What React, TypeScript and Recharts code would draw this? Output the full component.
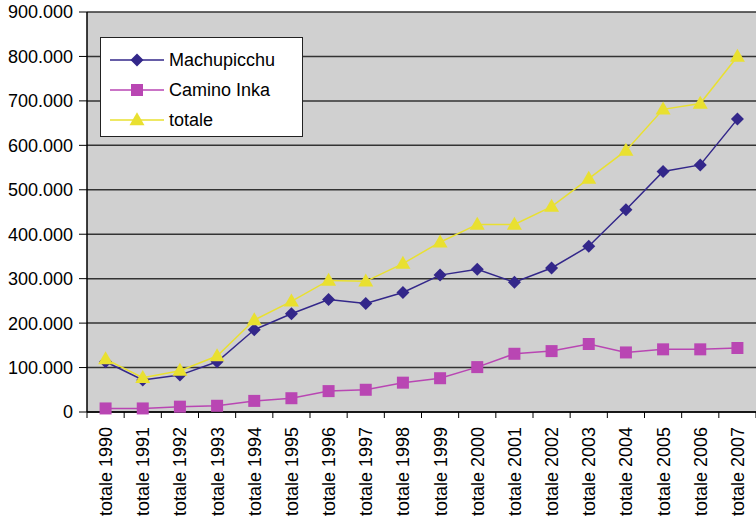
import React from "react";
import { LineChart, Line, XAxis, YAxis, CartesianGrid } from "recharts";

const categories = [
  "totale 1990", "totale 1991", "totale 1992", "totale 1993", "totale 1994", "totale 1995",
  "totale 1996", "totale 1997", "totale 1998", "totale 1999", "totale 2000", "totale 2001",
  "totale 2002", "totale 2003", "totale 2004", "totale 2005", "totale 2006", "totale 2007",
];
const machupicchu = [113000, 72000, 83000, 113000, 185000, 221000, 253000, 244000, 269000, 308000, 321000, 292000, 324000, 373000, 455000, 541000, 556000, 659000];
const caminoInka = [8000, 8000, 12000, 14000, 25000, 31000, 47000, 50000, 66000, 76000, 101000, 131000, 137000, 153000, 134000, 141000, 141000, 144000];
const totale = [119000, 77000, 93000, 126000, 207000, 249000, 296000, 294000, 334000, 382000, 422000, 422000, 462000, 525000, 588000, 681000, 694000, 800000];
const yTicks = [0, 100000, 200000, 300000, 400000, 500000, 600000, 700000, 800000, 900000];

const seriesNames = ["Machupicchu", "Camino Inka", "totale"];
const COLORS = { m: "#33278a", c: "#b946b3", t: "#e9e030" };

const data = categories.map((c, i) => ({
  name: c,
  Machupicchu: machupicchu[i],
  "Camino Inka": caminoInka[i],
  totale: totale[i],
}));

const W = 756;
const H = 521;
const LEFT = 87;
const PLOT_W = W - LEFT;
const HALF_BAND = PLOT_W / categories.length / 2;
const FONT = "'Liberation Sans', Arial, sans-serif";

const fmt = (v: number) => (v === 0 ? "0" : (v / 1000).toFixed(0) + ".000");

const Diamond = ({ cx, cy, fill, r = 6.5 }: any) => (
  <path d={`M${cx},${cy - r} L${cx + r},${cy} L${cx},${cy + r} L${cx - r},${cy} Z`} fill={fill} />
);
const Square = ({ cx, cy, fill, s = 12 }: any) => (
  <rect x={cx - s / 2} y={cy - s / 2} width={s} height={s} fill={fill} />
);
const Triangle = ({ cx, cy, fill, w = 15, h = 13 }: any) => (
  <path d={`M${cx},${cy - h * 0.6} L${cx + w / 2},${cy + h * 0.4} L${cx - w / 2},${cy + h * 0.4} Z`} fill={fill} />
);

const XTick = (props: any) => {
  const { x, y, payload, index } = props;
  const isLast = index === categories.length - 1;
  return (
    <g>
      <line x1={x - HALF_BAND} x2={x - HALF_BAND} y1={y - 6} y2={y} stroke="#000" strokeWidth={1} />
      {isLast && <line x1={x + HALF_BAND} x2={x + HALF_BAND} y1={y - 6} y2={y} stroke="#000" />}
      <text
        transform={`translate(${x + 6.5},${y + 9}) rotate(-90)`}
        textAnchor="end"
        fontSize={18}
        fontFamily={FONT}
        fill="#000"
      >
        {payload.value}
      </text>
    </g>
  );
};

const legendItems = [
  { name: seriesNames[0], color: COLORS.m, shape: "d" },
  { name: seriesNames[1], color: COLORS.c, shape: "s" },
  { name: seriesNames[2], color: COLORS.t, shape: "t" },
];

export default function App() {
  return (
    <div style={{ position: "absolute", left: 0, top: 0, width: W, height: H, background: "#fff" }}>
      <LineChart width={W} height={H} data={data} margin={{ top: 12, right: 0, left: 0, bottom: 0 }}>
        <CartesianGrid vertical={false} stroke="#333" strokeWidth={1.5} fill="#d0d0d0" fillOpacity={1} />
        <XAxis
          dataKey="name"
          height={109}
          padding={{ left: HALF_BAND, right: HALF_BAND }}
          axisLine={{ stroke: "#000", strokeWidth: 1.5 }}
          tickLine={false}
          tickSize={6}
          tickMargin={0}
          interval={0}
          tick={<XTick />}
        />
        <YAxis
          width={LEFT}
          domain={[0, 900000]}
          ticks={yTicks}
          tickFormatter={fmt}
          axisLine={{ stroke: "#000", strokeWidth: 1.5 }}
          tickLine={{ stroke: "#000" }}
          tickSize={8}
          tickMargin={6}
          tick={{ fill: "#000", fontSize: 18, fontFamily: FONT }}
        />
        <Line
          dataKey="Camino Inka"
          stroke={COLORS.c}
          strokeWidth={1.5}
          isAnimationActive={false}
          dot={(p: any) => <Square key={`c${p.index}`} cx={p.cx} cy={p.cy} fill={COLORS.c} />}
        />
        <Line
          dataKey="Machupicchu"
          stroke={COLORS.m}
          strokeWidth={1.5}
          isAnimationActive={false}
          dot={(p: any) => <Diamond key={`m${p.index}`} cx={p.cx} cy={p.cy} fill={COLORS.m} />}
        />
        <Line
          dataKey="totale"
          stroke={COLORS.t}
          strokeWidth={1.5}
          isAnimationActive={false}
          dot={(p: any) => <Triangle key={`t${p.index}`} cx={p.cx} cy={p.cy} fill={COLORS.t} />}
        />
      </LineChart>
      <div
        style={{
          position: "absolute",
          left: 100,
          top: 37,
          width: 201,
          height: 98,
          background: "#fff",
          border: "1px solid #222",
          fontFamily: FONT,
          fontSize: 18,
        }}
      >
        {legendItems.map((it, i) => (
          <div key={it.name} style={{ position: "absolute", left: 9, top: 9 + i * 30, height: 26, display: "flex", alignItems: "center" }}>
            <svg width={56} height={26} style={{ display: "block" }}>
              <line x1={0} x2={54} y1={13} y2={13} stroke={it.color} strokeWidth={1.5} />
              {it.shape === "d" && <Diamond cx={27} cy={13} fill={it.color} />}
              {it.shape === "s" && <Square cx={27} cy={13} fill={it.color} />}
              {it.shape === "t" && <Triangle cx={27} cy={13} fill={it.color} />}
            </svg>
            <span style={{ marginLeft: 3, color: "#000", whiteSpace: "nowrap" }}>{it.name}</span>
          </div>
        ))}
      </div>
    </div>
  );
}
